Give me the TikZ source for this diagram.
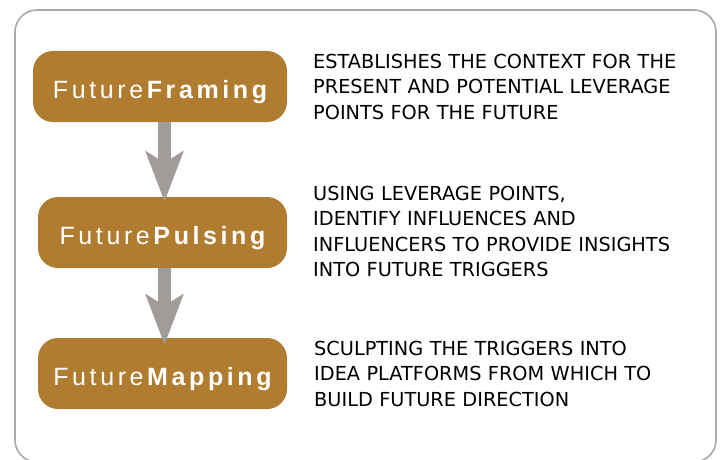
\documentclass[tikz,border=0pt]{standalone}
\usepackage{fontspec}
\setmainfont{DejaVu Sans}
\newfontfamily\boxfont[LetterSpace=14.4]{Liberation Sans}
\usetikzlibrary{arrows.meta,calc}
\definecolor{boxbrown}{HTML}{B07C2F}
\definecolor{arrowgray}{HTML}{A19C99}
\definecolor{framegray}{HTML}{A8A8A8}
\begin{document}
\begin{tikzpicture}[x=1pt,y=-1pt,
  frame/.style={draw=framegray, line width=1.6pt, rounded corners=22pt},
  stagebox/.style={fill=boxbrown, draw=none, rounded corners=20pt, minimum height=71pt,
    text=white, font=\boxfont\fontsize{25}{30}\selectfont, text height=23pt, text depth=0pt, inner sep=0pt},
  desc/.style={anchor=north west, inner sep=0pt, align=left, text width=400pt,
    font=\fontsize{19.3}{25.5}\selectfont, text=black},
  flow/.style={draw=arrowgray, line width=13pt, -{Stealth[length=50pt,width=37pt,inset=11pt]}}
]
\useasboundingbox (0,0) rectangle (720,460);
\begin{scope}
\clip (0,0) rectangle (720,460);
\draw[frame] (15,10) rectangle (716,462);
\end{scope}

\node[stagebox, minimum width=254pt] (b1) at (160,86.5) {\kern3.6pt Future\textbf{Framing}};
\node[stagebox, minimum width=249pt] (b2) at (162.5,232.5) {\kern3.6pt Future\textbf{Pulsing}};
\node[stagebox, minimum width=249pt] (b3) at (162.5,373.5) {\kern3.6pt Future\textbf{Mapping}};

\coordinate (ax) at (164.5,0);
\draw[flow, shorten >=-5pt] (b1.south -| ax) -- (b2.north -| ax);
\draw[flow, shorten >=-7pt] (b2.south -| ax) -- (b3.north -| ax);

\node[desc] (d1) at (313,53.7) {ESTABLISHES THE CONTEXT FOR THE\\PRESENT AND POTENTIAL LEVERAGE\\POINTS FOR THE FUTURE};
\node[desc] (d2) at (313,185.9) {USING LEVERAGE POINTS,\\IDENTIFY INFLUENCES AND\\INFLUENCERS TO PROVIDE INSIGHTS\\INTO FUTURE TRIGGERS};
\node[desc] (d3) at (314,340.9) {SCULPTING THE TRIGGERS INTO\\IDEA PLATFORMS FROM WHICH TO\\BUILD FUTURE DIRECTION};
\end{tikzpicture}
\end{document}
